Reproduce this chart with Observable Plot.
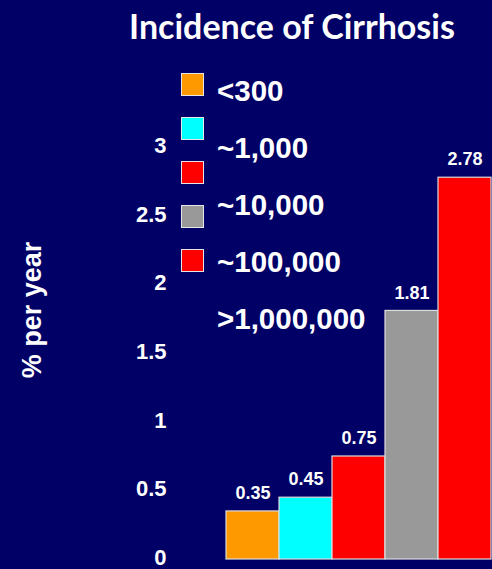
<!DOCTYPE html>
<html>
<head>
<meta charset="utf-8">
<script src="https://cdn.jsdelivr.net/npm/d3@7"></script>
<script src="https://cdn.jsdelivr.net/npm/@observablehq/plot@0.6"></script>
<style>
  html, body { margin: 0; padding: 0; background: #000066; }
  #wrap { position: relative; width: 492px; height: 569px; overflow: hidden; background: #000066; }
  #title { position: absolute; left: 0; width: 584px; top: 5px; text-align: center;
    font: bold 34px Lato, "Liberation Sans", sans-serif; color: #fff; white-space: nowrap; }
  #ylabel { position: absolute; left: 32px; top: 310px; transform: translate(-50%, -50%) rotate(-90deg);
    font: bold 27px "Liberation Sans", Arial, sans-serif; color: #fff; white-space: nowrap; }
  .sw { position: absolute; left: 181px; width: 21px; height: 21px; border: 1px solid #e6e6e6; }
  .lab { position: absolute; left: 217px; transform: translateY(-50%);
    font: bold 29.5px "Liberation Sans", Arial, sans-serif; color: #fff; white-space: nowrap; }
  svg { display: block; }
</style>
</head>
<body>
<div id="wrap">
  <div id="chart"></div>
  <div id="title">Incidence of Cirrhosis</div>
  <div id="ylabel">% per year</div>
  <div id="legend"></div>
</div>
<script>
// Population size groups and their yearly cirrhosis incidence (%)
const groups = ["<300", "~1,000", "~10,000", "~100,000", ">1,000,000"];
const incidence = [0.35, 0.45, 0.75, 1.81, 2.78];
const barColors = ["#FF9900", "#00FFFF", "#FF0000", "#999999", "#FF0000"];
const yTicks = [0, 0.5, 1, 1.5, 2, 2.5, 3];

const rows = groups.map((g, i) => ({group: g, value: incidence[i], color: barColors[i]}));

const chart = Plot.plot({
  width: 492,
  height: 569,
  marginLeft: 224,
  marginRight: 0,
  marginTop: 147,
  marginBottom: 10,
  style: {background: "#000066", color: "#fff", overflow: "visible"},
  x: {domain: groups, padding: 0, axis: null},
  y: {domain: [0, 3], ticks: yTicks, tickFormat: d => String(d), tickSize: 0, tickPadding: 58, label: null},
  marks: [
    Plot.barY(rows, {x: "group", y: "value", fill: "color", stroke: "#dcdcdc", strokeWidth: 1.2}),
    Plot.text(rows, {x: "group", y: "value", text: d => d.value.toFixed(2), dy: -18,
      fill: "#fff", fontSize: 18, fontWeight: "bold", fontFamily: "Liberation Sans, Arial, sans-serif"}),
    Plot.axisY({ticks: yTicks, tickFormat: d => String(d), tickSize: 0, tickPadding: 58, label: null, dy: -1.5,
      fontSize: 22, fontWeight: "bold", fontFamily: "Liberation Sans, Arial, sans-serif", fill: "#fff"})
  ]
});
document.getElementById("chart").appendChild(chart);

// Legend: swatches and labels stacked with their own spacing
const legend = document.getElementById("legend");
barColors.forEach((c, i) => {
  const s = document.createElement("div");
  s.className = "sw";
  s.style.top = (73 + i * 44) + "px";
  s.style.background = c;
  legend.appendChild(s);
});
groups.forEach((g, i) => {
  const t = document.createElement("div");
  t.className = "lab";
  t.style.top = (91 + i * 57) + "px";
  t.textContent = g;
  legend.appendChild(t);
});
</script>
</body>
</html>
